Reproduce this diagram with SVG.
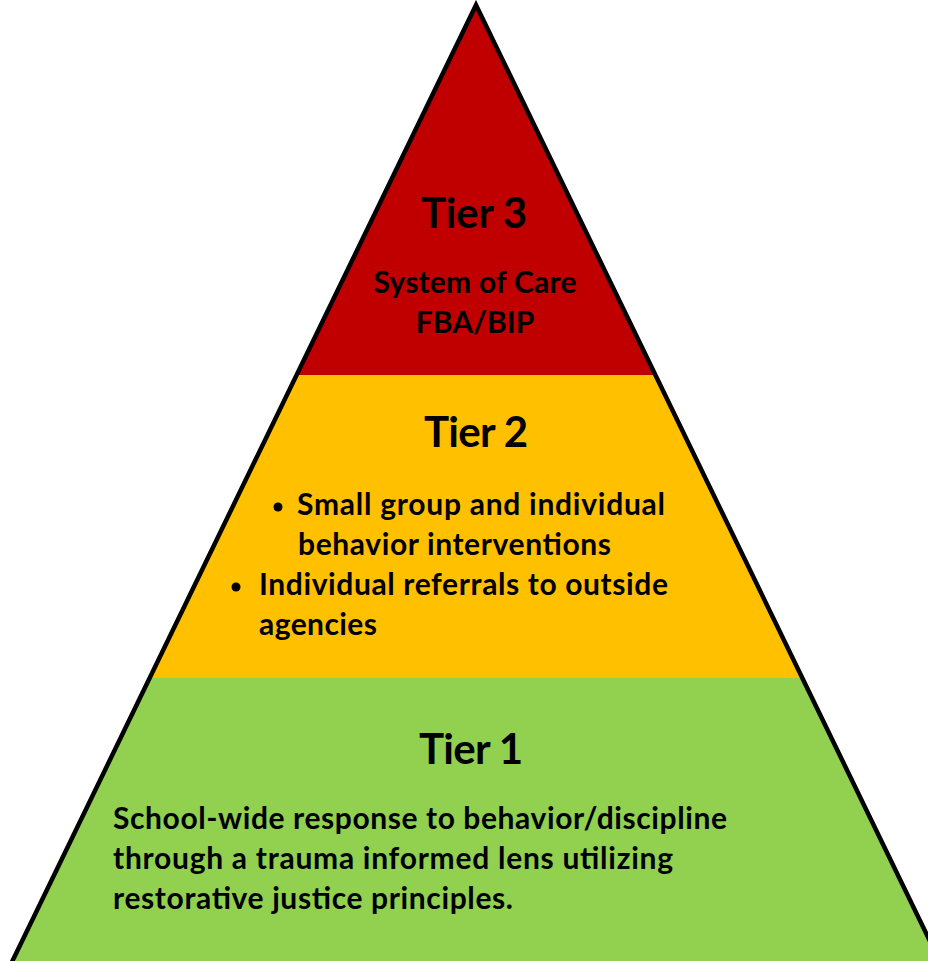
<svg xmlns="http://www.w3.org/2000/svg" width="928" height="961" viewBox="0 0 928 961">
<style>
.t{font-family:Lato,"Open Sans","Liberation Sans",sans-serif;font-weight:bold;fill:#000}
.h{font-size:42px;text-anchor:middle}
.b{font-size:30px}
</style>
<rect width="928" height="961" fill="#fff"/>
<g id="tier3">
<polygon points="476,5 296.6,375 655.4,375" fill="#C00000"/>
<text class="t h" x="474" y="228" textLength="106">Tier 3</text>
<text class="t b" x="475" y="293" text-anchor="middle" textLength="203">System of Care</text>
<text class="t b" x="475" y="333" text-anchor="middle">FBA/BIP</text>
</g>
<g id="tier2">
<polygon points="296.6,375 655.4,375 802.3,678 149.7,678" fill="#FFC000"/>
<text class="t h" x="476" y="447" textLength="104">Tier 2</text>
<circle cx="278" cy="507" r="4.5" fill="#000"/>
<text class="t b" x="297" y="515" textLength="368">Small group and individual</text>
<text class="t b" x="298" y="555" textLength="313">behavior interventions</text>
<circle cx="236" cy="587" r="4.5" fill="#000"/>
<text class="t b" x="259" y="595" textLength="409">Individual referrals to outside</text>
<text class="t b" x="259" y="635" textLength="118">agencies</text>
</g>
<g id="tier1">
<polygon points="149.7,678 802.3,678 942,966 10,966" fill="#92D050"/>
<text class="t h" x="471" y="764" textLength="104">Tier 1</text>
<text class="t b" x="113" y="829" textLength="614">School-wide response to behavior/discipline</text>
<text class="t b" x="113" y="869" textLength="560">through a trauma informed lens utilizing</text>
<text class="t b" x="113" y="909" textLength="400">restorative justice principles.</text>
</g>
<g id="connectors">
<polygon points="476,5 10,966 942,966" fill="none" stroke="#000" stroke-width="4.5" stroke-linejoin="miter"/>
</g>
</svg>
